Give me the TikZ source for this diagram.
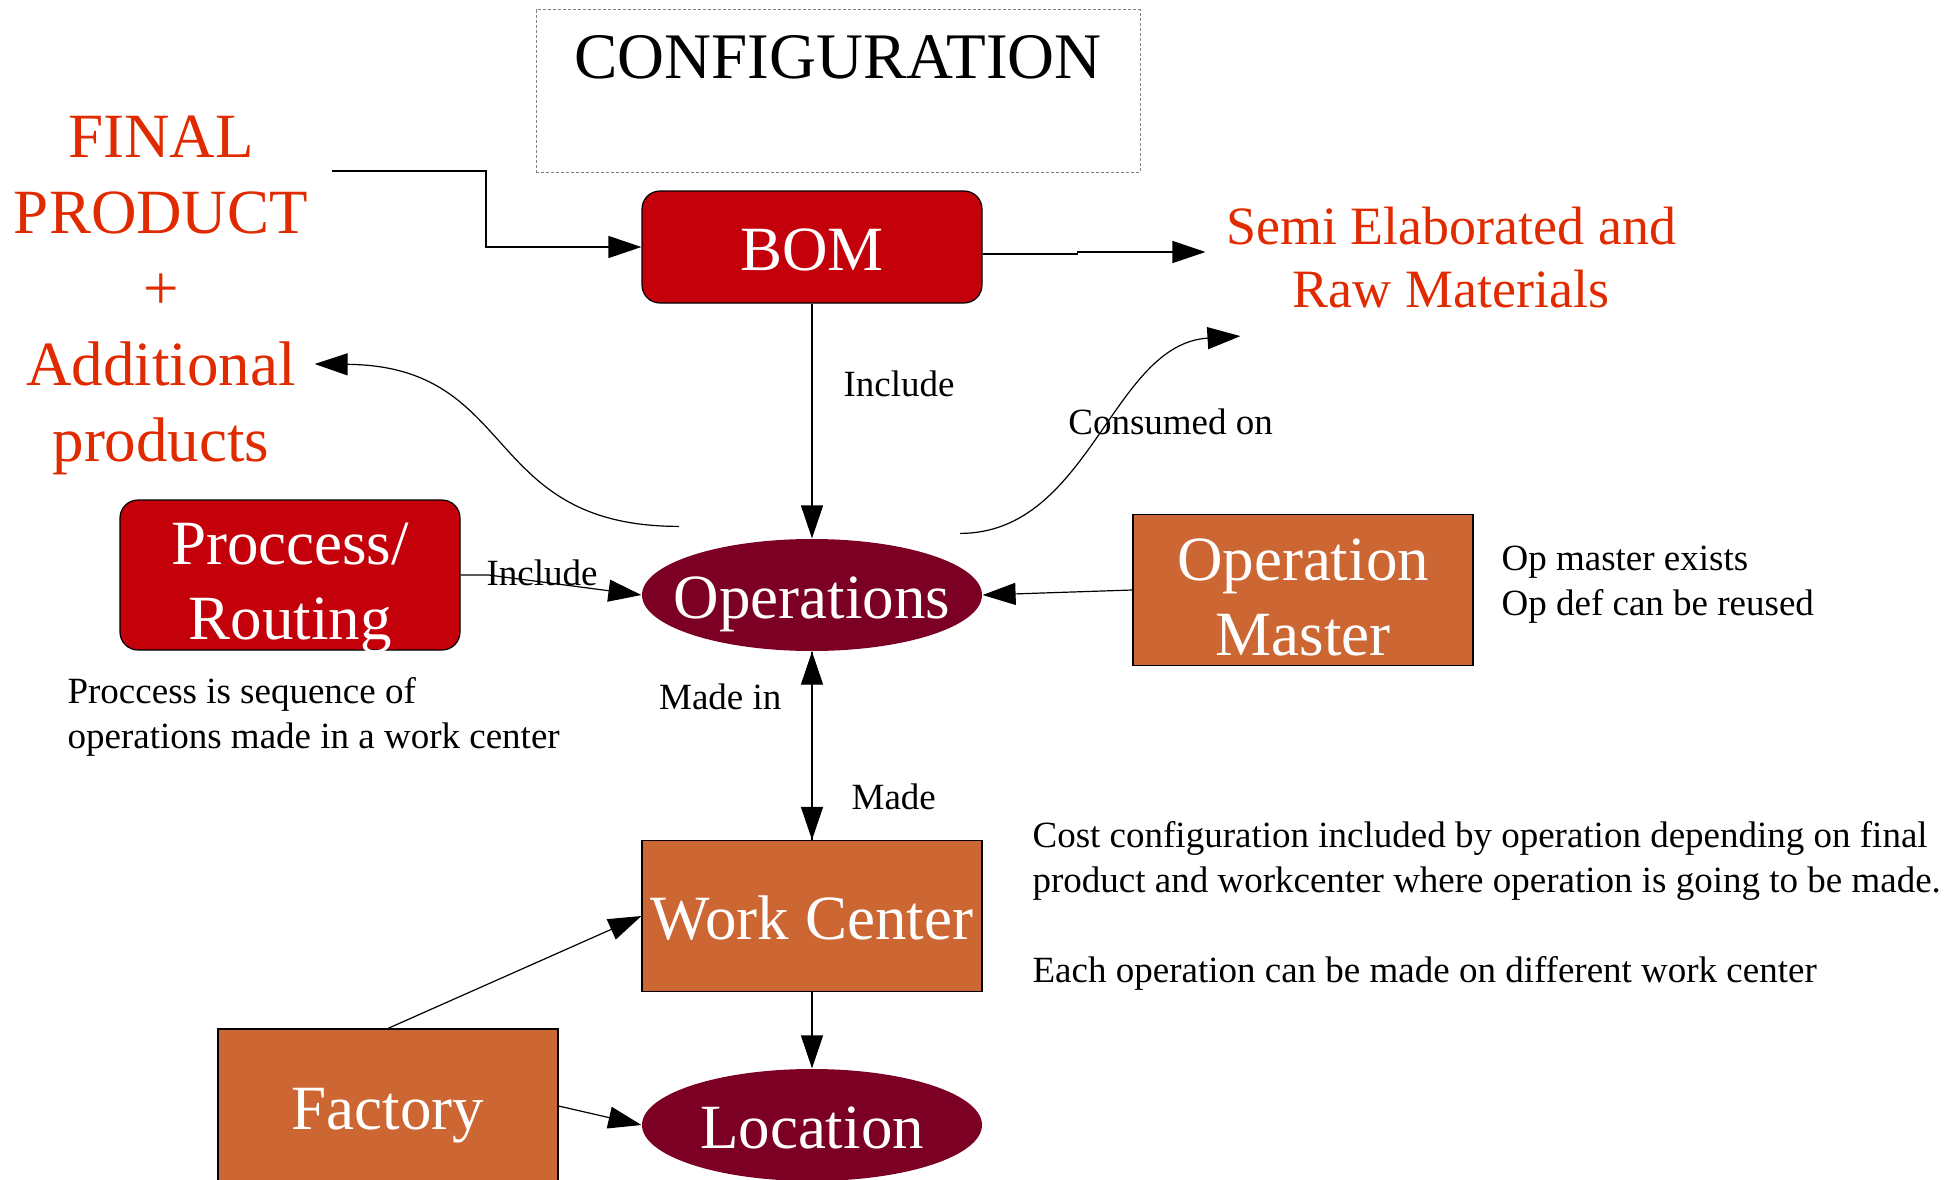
\documentclass[tikz,border=0pt]{standalone}
\usepackage{fontspec}
\setmainfont{Liberation Serif}
\usetikzlibrary{arrows.meta,shapes.geometric}
\definecolor{bomred}{HTML}{C4000B}
\definecolor{opwine}{HTML}{7B0023}
\definecolor{wcorange}{HTML}{CC6633}
\definecolor{textred}{HTML}{E02A00}

\begin{document}
\begin{tikzpicture}[x=1pt,y=-1pt,>={Triangle[length=33pt,width=22pt]},line width=1.2pt,
    redbox/.style={draw,fill=bomred,rounded corners=18pt,text=white,
      minimum width=340pt,align=center,font=\fontsize{63}{75}\selectfont},
    orangebox/.style={draw,fill=wcorange,text=white,minimum width=340pt,
      minimum height=151pt,align=center,font=\fontsize{63}{75}\selectfont},
    wineoval/.style={ellipse,fill=opwine,text=white,minimum width=340pt,
      minimum height=112pt,inner ysep=0pt,inner xsep=-25pt,font=\fontsize{63}{75}\selectfont},
    oneline/.style={text height=46pt,text depth=0pt},
    redtext/.style={text=textred,align=center},
    note/.style={anchor=west,align=left,inner sep=0pt,font=\fontsize{37}{45}\selectfont},
    lbl/.style={font=\fontsize{37}{45}\selectfont,inner sep=0pt}]
  \useasboundingbox (0,0) rectangle (1956,1180);

  \node[draw=gray,dash pattern=on 3pt off 2pt,line width=1pt,minimum width=604pt,minimum height=162pt] (cfgbox) at (838,91) {};
  \node[font=\fontsize{65}{75}\selectfont] (cfg) at (838,57) {CONFIGURATION};

  \node[redtext,font=\fontsize{63}{76}\selectfont,inner sep=0pt] (final) at (161,295) {FINAL\\PRODUCT\\+\\Additional\\products};
  \node[redbox,oneline,minimum height=112pt] (bom) at (812,247) {BOM};
  \node[redtext,font=\fontsize{54}{63}\selectfont,inner xsep=20pt,inner ysep=4pt] (semi) at (1451,258) {Semi Elaborated and\\Raw Materials};

  \node[wineoval,oneline] (ops) at (812,595) {Operations};
  \node[redbox,minimum height=150pt,inner ysep=-10pt] (proc) at (290,575) {\rule{0pt}{68pt}Proccess/\\Routing};
  \node[orangebox,inner ysep=0pt] (opm) at (1303,590) {\rule{0pt}{56pt}Operation\\Master};
  \node[orangebox,oneline] (wc) at (812,916) {Work Center};
  \node[wineoval,oneline] (loc) at (812,1125) {Location};
  \node[orangebox,oneline,minimum height=154pt] (fac) at (388,1106) {Factory};

  \node[note] (opnote) at (1501,585) {Op master exists\\Op def can be reused};
  \node[note] (procnote) at (67,717) {Proccess is sequence of\\operations made in a work center};
  \node[note] (costnote) at (1032,906) {Cost configuration included by operation depending on final\\product and workcenter where operation is going to be made.\\[45pt]Each operation can be made on different work center};

  \coordinate (fp) at (332,171);
  \draw[->] (fp) -- ++(154,0) |- (bom.west);
  \draw[->] ([yshift=-7pt]bom.east) -- ++(95,0) |- ([yshift=6pt]semi.west);
  \draw[->] (bom) -- node[lbl,pos=0.34,right=31pt] {Include} (ops);
  \draw[->] ([xshift=-133pt,yshift=12pt]ops.north) .. controls +(-199,0) and +(206,2) .. ([xshift=6pt,yshift=-69pt]final.east);
  \draw[->] ([xshift=148pt,yshift=5pt]ops.north) .. controls +(130,0) and +(-129,8) .. node[lbl,pos=0.5,xshift=70pt,yshift=16pt] {Consumed on} ([xshift=35pt,yshift=-23pt]semi.south west);
  \draw[->] (proc.east) -- ++(28,0) -- node[lbl,pos=0.35,yshift=9pt] {Include} (ops.west);
  \draw[->] (opm.west) -- (ops.east);
  %\draw[<->] (ops) -- (wc);
  \draw[->] (wc) -- node[lbl,pos=0.76,left=30pt] {Made in} (ops);
  \draw[->] (ops) -- node[lbl,pos=0.77,right=39pt] {Made} (wc);
  \draw[->] (fac.north) -- (wc.west);
  \draw[->] (wc) -- (loc);
  \draw[->] (fac.east) -- (loc.west);
\end{tikzpicture}
\end{document}
